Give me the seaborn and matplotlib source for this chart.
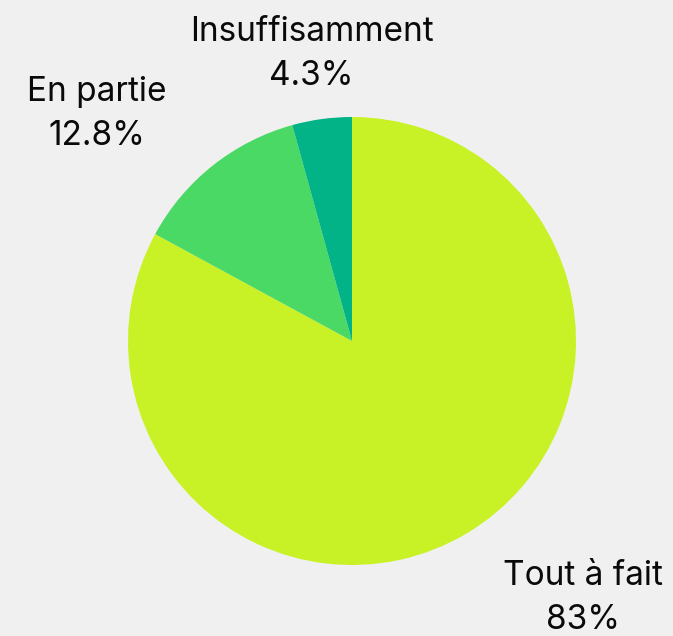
import matplotlib
matplotlib.use("Agg")
import matplotlib.pyplot as plt
import seaborn as sns

categories = ["Tout à fait", "En partie", "Insuffisamment"]
values = [83.0, 12.8, 4.3]
pct_labels = ["83%", "12.8%", "4.3%"]
colors = ["#c8f225", "#4bd965", "#02b388"]

sns.set_theme(style="white")
plt.rcParams["font.family"] = ["Inter", "DejaVu Sans"]

W, H = 673, 636
fig = plt.figure(figsize=(W / 100, H / 100), dpi=100, facecolor="#f0f0f0")
ax = fig.add_axes([0, 0, 1, 1])
ax.set_facecolor("#f0f0f0")

ax.pie(values, colors=sns.color_palette(colors), startangle=90, counterclock=False,
       radius=1.0, wedgeprops=dict(linewidth=0))

cx, cy, r = 352, 341, 224
ax.set_xlim(-cx / r, (W - cx) / r)
ax.set_ylim(-(H - cy) / r, cy / r)
ax.set_aspect("equal")
ax.axis("off")

label_pos = [(1.03, -1.148), (-1.14, 1.015), (-0.18, 1.28)]
for (x, y), cat, p in zip(label_pos, categories, pct_labels):
    ax.text(x, y, f"{cat}\n{p}", ha="center", va="center", fontsize=24,
            color="#0a0a0a", linespacing=1.48)

fig.savefig("out.png", dpi=100, facecolor="#f0f0f0")
